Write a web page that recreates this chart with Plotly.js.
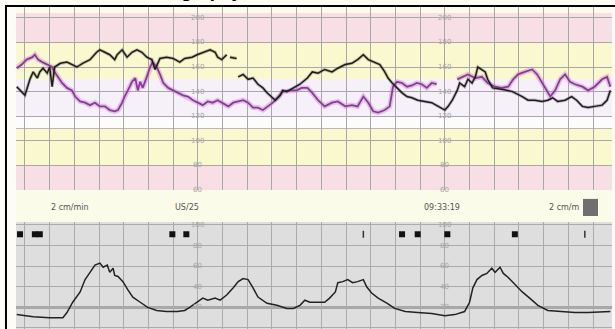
<!DOCTYPE html>
<html>
<head>
<meta charset="utf-8">
<script src="https://cdn.plot.ly/plotly-3.0.1.min.js"></script>
<style>html,body{margin:0;padding:0;background:#fff}#chart{width:615px;height:329px}</style>
</head>
<body>
<div id="chart"></div>
<script>
// ---- Data (time in seconds, FHR in bpm, UA in units) ----
const fhr1Time = [-10,0,6,10,15,18,22,27,30,33,36,43,51,57,63,70,79,87,91,97,103,109,112,118,124,130,136,142,148,154,158,164,172,180,188,194,203,209,216,225,231,234,239,245,247,249,257,258,259,265,271,277,283,289,294,300,304,310,313,318,326,334,343,349,356,364,373,380,389,397,404,411,417,425,431,437,441,446,452,458,464,470,477,486,494,502,510,514,519,525,528,534,538,543,547,550,555,559,562,568,579,592,604,611,619,628,635,641,647,656,664,670,677,684,692,701,707,711];
const fhr1 = [144,137,150,156,151,156,159,155,160,144,160,163,164,162,160,163,166,172,174,172,170,166,170,174,168,172,174,172,168,166,158,167,168,167,164,167,168,170,172,174,172,168,166,170,null,168,167,null,152,154,150,151,146,143,139,135,133,137,141,140,143,146,151,156,155,158,156,159,162,163,166,170,166,164,162,156,151,147,143,139,136,135,133,132,131,128,125,128,133,141,147,144,150,147,152,160,158,156,150,143,142,140,136,133,133,132,133,135,132,133,136,133,128,127,128,129,133,141];

const fhr2Time = [-10,-4,2,9,12,16,21,24,28,33,36,40,45,51,57,61,67,73,79,85,91,97,103,109,113,118,121,125,130,134,137,140,143,148,152,155,160,164,168,174,180,186,192,198,204,210,216,222,228,234,240,247,253,259,265,271,277,283,289,295,301,307,313,322,330,336,343,349,356,364,373,380,389,397,404,411,417,423,429,437,443,447,452,458,464,470,476,482,488,494,500,512,525,531,538,547,555,562,571,579,587,593,599,607,616,622,628,634,638,644,650,656,662,668,677,684,692,701,707,711];
const fhr2 = [159,162,166,168,170,166,164,163,162,160,156,152,147,143,141,136,132,131,129,131,128,128,125,124,125,131,136,141,148,151,141,148,143,152,160,164,160,154,147,143,141,139,137,136,133,131,129,132,131,133,131,128,131,132,133,131,127,127,125,128,131,135,140,141,141,143,143,139,133,128,131,132,128,129,128,136,131,124,123,125,128,144,148,147,144,145,147,146,143,147,146,null,150,152,154,151,152,147,144,143,144,150,154,156,158,154,147,140,136,141,150,154,148,146,144,141,144,150,152,144];

const uaTime = [-10,10,30,46,51,58,67,73,79,85,91,95,100,103,107,109,113,119,125,131,140,149,160,172,185,194,200,209,216,222,231,237,245,253,259,265,271,277,283,294,306,318,326,334,340,346,352,364,370,377,380,386,392,398,404,411,415,421,429,440,449,462,477,494,510,522,534,540,544,549,555,561,567,571,577,581,587,595,604,613,623,635,652,668,684,701,711];
const ua = [13,11,10,10,15,25,35,47,54,61,63,59,61,54,58,51,50,45,37,30,25,20,17,16,16,17,20,25,29,27,29,27,32,39,45,48,47,39,30,24,22,19,19,22,27,25,25,25,29,35,44,45,47,44,45,47,40,34,29,24,19,16,15,14,12,13,16,25,39,47,51,53,58,54,59,53,49,42,35,29,22,17,16,15,15,16,16];

const movementTime = [-6,12,18,179,196,458,477,513,595];
const movementLevel = [91,91,91,91,91,91,91,91,91];
const tickMarkTime = [411,680];
const tickMarkLevel = [91,91];

const fhrLabels = ["200","180","160","140","120","100","80","60"];
const fhrLabelValues = [200,180,160,140,120,100,80,60];
const uaLabels = ["100","80","60","40","20"];
const uaLabelValues = [100,80,60,40,20];
const labelColumns = [210,510];

const stripTexts = ["2 cm/min","US/25","09:33:19","2 cm/m"];
const titleText = "Cardiotocography";

// ---- Plot ----
const traces = [
  {x: fhr2Time, y: fhr2, type:'scatter', mode:'lines', xaxis:'x', yaxis:'y',
   line:{color:'rgba(205,130,215,0.45)', width:5}, connectgaps:false, hoverinfo:'skip'},
  {x: fhr2Time, y: fhr2, type:'scatter', mode:'lines', xaxis:'x', yaxis:'y',
   line:{color:'#8a3b97', width:1.8}, connectgaps:false},
  {x: fhr1Time, y: fhr1, type:'scatter', mode:'lines', xaxis:'x', yaxis:'y',
   line:{color:'rgba(60,60,60,0.3)', width:3.2}, connectgaps:false, hoverinfo:'skip'},
  {x: fhr1Time, y: fhr1, type:'scatter', mode:'lines', xaxis:'x', yaxis:'y',
   line:{color:'#1c1c1c', width:1.5}, connectgaps:false},
  {x: uaTime, y: ua, type:'scatter', mode:'lines', xaxis:'x2', yaxis:'y2',
   line:{color:'#222', width:1.5}},
  {x: movementTime, y: movementLevel, type:'scatter', mode:'markers', xaxis:'x2', yaxis:'y2',
   marker:{symbol:'square', size:6, color:'#111'}},
  {x: tickMarkTime, y: tickMarkLevel, type:'scatter', mode:'markers', xaxis:'x2', yaxis:'y2',
   marker:{symbol:'line-ns-open', size:5, color:'#333', line:{color:'#333', width:1.5}}}
];

const pink = '#f8dfe6', yellow = '#faf8cf', lav = '#f6f0f9', white = '#fdfcfd', cream = '#fbfbea';
function band(y0, y1, color){
  return {type:'rect', xref:'x', yref:'y', x0:-10.9, x1:713, y0:y0, y1:y1,
          fillcolor:color, line:{width:0}, layer:'below'};
}
const shapes = [
  band(204, 208.8, cream),
  band(180, 204, pink),
  band(150, 180, yellow),
  band(120, 150, lav),
  band(110, 120, white),
  band(80, 110, yellow),
  band(60, 80, pink),
  {type:'line', xref:'x', yref:'y', x0:-10.9, x1:713, y0:110, y1:110, line:{color:'#b8b8b0', width:1}, layer:'below'},
  // UA background
  {type:'rect', xref:'x2', yref:'y2', x0:-10.9, x1:713, y0:-0.97, y1:102.9, fillcolor:'#dedede', line:{width:0}, layer:'below'},
  {type:'line', xref:'x2', yref:'y2', x0:-10.9, x1:713, y0:20, y1:20, line:{color:'#6e6e6e', width:2}, layer:'below'},
  // middle strip
  {type:'rect', xref:'paper', yref:'paper', x0:0, x1:1, y0:0.3323, y1:0.4317, fillcolor:cream, line:{width:0}, layer:'below'},
  // dark square at right of strip
  {type:'rect', xref:'paper', yref:'paper', x0:0.9513, x1:0.9765, y0:0.351, y1:0.404, fillcolor:'#6f6f6f', line:{width:0}, layer:'above'},
  // frame
  {type:'line', xref:'paper', yref:'paper', x0:-0.0168, x1:-0.0168, y0:-0.01, y1:1.0031, line:{color:'#000', width:2}, layer:'above'},
  {type:'line', xref:'paper', yref:'paper', x0:-0.0185, x1:1.01, y0:1.0031, y1:1.0031, line:{color:'#000', width:2}, layer:'above'}
];

const annotations = [];
labelColumns.forEach(function(cx){
  fhrLabels.forEach(function(t, i){
    annotations.push({x:cx, y:fhrLabelValues[i], xref:'x', yref:'y', text:t, showarrow:false,
      font:{family:'DejaVu Sans', size:7, color:'#a5a5a5'}});
  });
  uaLabels.forEach(function(t, i){
    annotations.push({x:cx, y:uaLabelValues[i], xref:'x2', yref:'y2', text:t, showarrow:false,
      font:{family:'DejaVu Sans', size:7, color:'#a5a5a5'}});
  });
});
const stripX = [0.0906, 0.287, 0.7148, 0.9497];
const stripAnchor = ['center','center','center','right'];
stripTexts.forEach(function(t, i){
  annotations.push({x:stripX[i], y:0.3758, xref:'paper', yref:'paper', xanchor:stripAnchor[i], text:t, showarrow:false,
    font:{family:'DejaVu Sans', size:8, color:'#555'}});
});
annotations.push({x:0.25, y:1.0078, xref:'paper', yref:'paper', xanchor:'center', yanchor:'bottom', text:'<b>'+titleText+'</b>',
  showarrow:false, font:{family:'DejaVu Sans', size:15, color:'#000'}});

const gridColor = '#a8a8a8';
const layout = {
  width:615, height:329,
  margin:{l:16, r:3, t:7, b:0, pad:0},
  paper_bgcolor:'#fdfdf6', plot_bgcolor:'rgba(0,0,0,0)',
  showlegend:false,
  xaxis:{domain:[0,1], range:[-10.9,713], anchor:'y', showgrid:true, dtick:30, tick0:0, gridcolor:gridColor, gridwidth:1,
         showticklabels:false, ticks:'', zeroline:false, showline:false},
  yaxis:{domain:[0.4317,1], range:[60,208.8], anchor:'x', showgrid:true, dtick:20, tick0:0, gridcolor:gridColor, gridwidth:1,
         showticklabels:false, ticks:'', zeroline:false, showline:false},
  xaxis2:{domain:[0,1], range:[-10.9,713], anchor:'y2', showgrid:true, dtick:30, tick0:0, gridcolor:'#ababab', gridwidth:1,
         showticklabels:false, ticks:'', zeroline:false, showline:false},
  yaxis2:{domain:[0,0.3323], range:[-0.97,102.9], anchor:'x2', showgrid:true, dtick:20, tick0:0, gridcolor:'#ababab', gridwidth:1,
         showticklabels:false, ticks:'', zeroline:false, showline:false},
  shapes:shapes,
  annotations:annotations
};
Plotly.newPlot('chart', traces, layout, {staticPlot:true, displayModeBar:false});
</script>
</body>
</html>
